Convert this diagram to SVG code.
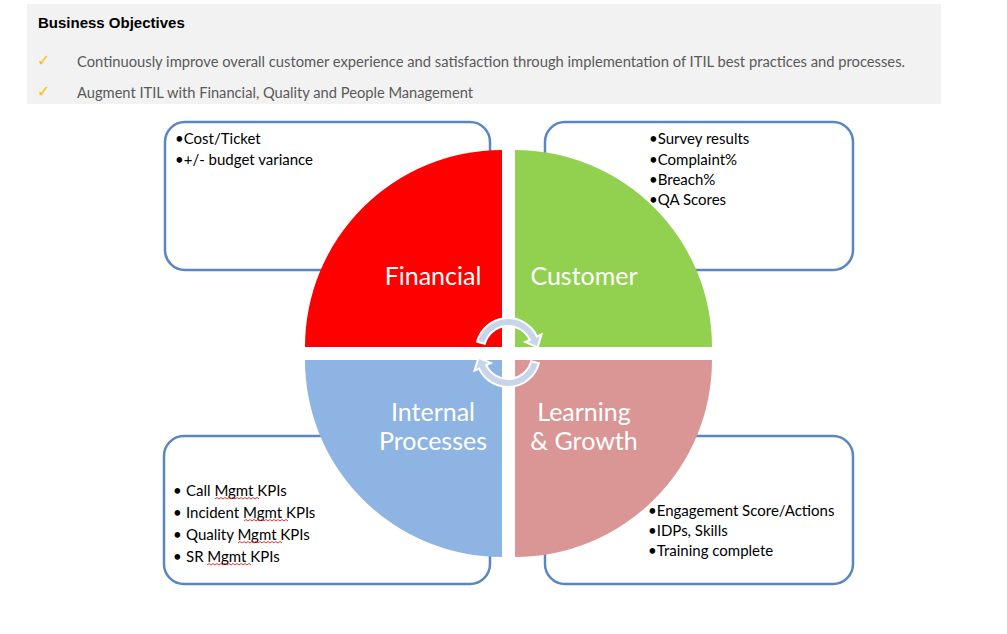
<svg xmlns="http://www.w3.org/2000/svg" width="1007" height="634" viewBox="0 0 1007 634">
<style>
.box{fill:#ffffff;stroke:#5a87c2;stroke-width:2.5}
.bt{font-family:Lato,"Open Sans",sans-serif;font-size:15px;fill:#000000}
.ql{font-family:Lato,"Open Sans",sans-serif;font-size:25px;fill:#ffffff;text-anchor:middle}
.hd{font-family:"Liberation Sans",Arial,sans-serif;font-size:15px;font-weight:bold;fill:#000000}
.ht{font-family:Lato,"Open Sans",sans-serif;font-size:14.5px;fill:#595959}
.ck{font-family:"DejaVu Sans",sans-serif;font-size:16px;font-weight:bold;fill:#ffc000}
.sq{fill:none;stroke:#e02020;stroke-width:0.9}
.arr{fill:#c6d5ea;stroke:#ffffff;stroke-width:2}
</style>
<rect width="1007" height="634" fill="#ffffff"/>
<g id="objectives">
<rect x="27" y="4" width="914" height="100" fill="#f2f2f2"/>
<text class="hd" x="38" y="28">Business Objectives</text>
<text class="ck" x="37" y="66">✓</text>
<text class="ht" x="77" y="67" textLength="828" lengthAdjust="spacingAndGlyphs">Continuously improve overall customer experience and satisfaction through implementation of ITIL best practices and processes.</text>
<text class="ck" x="37" y="97">✓</text>
<text class="ht" x="77" y="98" textLength="396" lengthAdjust="spacingAndGlyphs">Augment ITIL with Financial, Quality and People Management</text>
</g>
<g id="box-financial">
<rect class="box" x="165" y="122" width="325" height="148" rx="20"/>
<text class="bt" x="175" y="144">•Cost/Ticket</text>
<text class="bt" x="175" y="165">•+/- budget variance</text>
</g>
<g id="box-customer">
<rect class="box" x="545" y="122" width="308" height="148" rx="20"/>
<text class="bt" x="649" y="144">•Survey results</text>
<text class="bt" x="649" y="165">•Complaint%</text>
<text class="bt" x="649" y="185">•Breach%</text>
<text class="bt" x="649" y="205">•QA Scores</text>
</g>
<g id="box-internal">
<rect class="box" x="164" y="436" width="326" height="148" rx="20"/>
<text class="bt" x="173" y="496">•</text><text class="bt" x="186" y="496">Call Mgmt KPIs</text>
<text class="bt" x="173" y="518">•</text><text class="bt" x="186" y="518">Incident Mgmt KPIs</text>
<text class="bt" x="173" y="540">•</text><text class="bt" x="186" y="540">Quality Mgmt KPIs</text>
<text class="bt" x="173" y="562">•</text><text class="bt" x="186" y="562">SR Mgmt KPIs</text>
<path class="sq" d="M215 499 l2 -1.5 l2 1.5 l2 -1.5 l2 1.5 l2 -1.5 l2 1.5 l2 -1.5 l2 1.5 l2 -1.5 l2 1.5 l2 -1.5 l2 1.5 l2 -1.5 l2 1.5 l2 -1.5 l2 1.5 l2 -1.5 l2 1.5 l2 -1.5 l2 1.5 l2 -1.5 l2 1.5"/>
<path class="sq" d="M244 521 l2 -1.5 l2 1.5 l2 -1.5 l2 1.5 l2 -1.5 l2 1.5 l2 -1.5 l2 1.5 l2 -1.5 l2 1.5 l2 -1.5 l2 1.5 l2 -1.5 l2 1.5 l2 -1.5 l2 1.5 l2 -1.5 l2 1.5 l2 -1.5 l2 1.5 l2 -1.5 l2 1.5"/>
<path class="sq" d="M238 543 l2 -1.5 l2 1.5 l2 -1.5 l2 1.5 l2 -1.5 l2 1.5 l2 -1.5 l2 1.5 l2 -1.5 l2 1.5 l2 -1.5 l2 1.5 l2 -1.5 l2 1.5 l2 -1.5 l2 1.5 l2 -1.5 l2 1.5 l2 -1.5 l2 1.5 l2 -1.5 l2 1.5"/>
<path class="sq" d="M207 565 l2 -1.5 l2 1.5 l2 -1.5 l2 1.5 l2 -1.5 l2 1.5 l2 -1.5 l2 1.5 l2 -1.5 l2 1.5 l2 -1.5 l2 1.5 l2 -1.5 l2 1.5 l2 -1.5 l2 1.5 l2 -1.5 l2 1.5 l2 -1.5 l2 1.5 l2 -1.5 l2 1.5"/>
</g>
<g id="box-learning">
<rect class="box" x="545" y="436" width="308" height="148" rx="20"/>
<text class="bt" x="648" y="516">•Engagement Score/Actions</text>
<text class="bt" x="648" y="536">•IDPs, Skills</text>
<text class="bt" x="648" y="556">•Training complete</text>
</g>
<g id="q-financial">
<path d="M502 347 L305 347 A197 197 0 0 1 502 150 Z" fill="#ff0000"/>
<text class="ql" x="433" y="285">Financial</text>
</g>
<g id="q-customer">
<path d="M515 347 L515 150 A197 197 0 0 1 712 347 Z" fill="#92d050"/>
<text class="ql" x="584" y="285">Customer</text>
</g>
<g id="q-internal">
<path d="M502 360 L502 557 A197 197 0 0 1 305 360 Z" fill="#8eb4e3"/>
<text class="ql" x="433" y="421">Internal</text>
<text class="ql" x="433" y="450">Processes</text>
</g>
<g id="q-learning">
<path d="M515 360 L712 360 A197 197 0 0 1 515 557 Z" fill="#d99694"/>
<text class="ql" x="584" y="421">Learning</text>
<text class="ql" x="584" y="450">&amp; Growth</text>
</g>
<g id="connectors">
<path class="arr" d="M477.1 341.7 A32 32 0 0 1 537.0 336.5 L541.5 334.4 L537.6 347.3 L525.2 342.0 L529.75 339.9 A24 24 0 0 0 484.8 343.8 Z"/>
<path class="arr" transform="rotate(180 508 352.5)" d="M477.1 341.7 A32 32 0 0 1 537.0 336.5 L541.5 334.4 L537.6 347.3 L525.2 342.0 L529.75 339.9 A24 24 0 0 0 484.8 343.8 Z"/>
</g>
</svg>
